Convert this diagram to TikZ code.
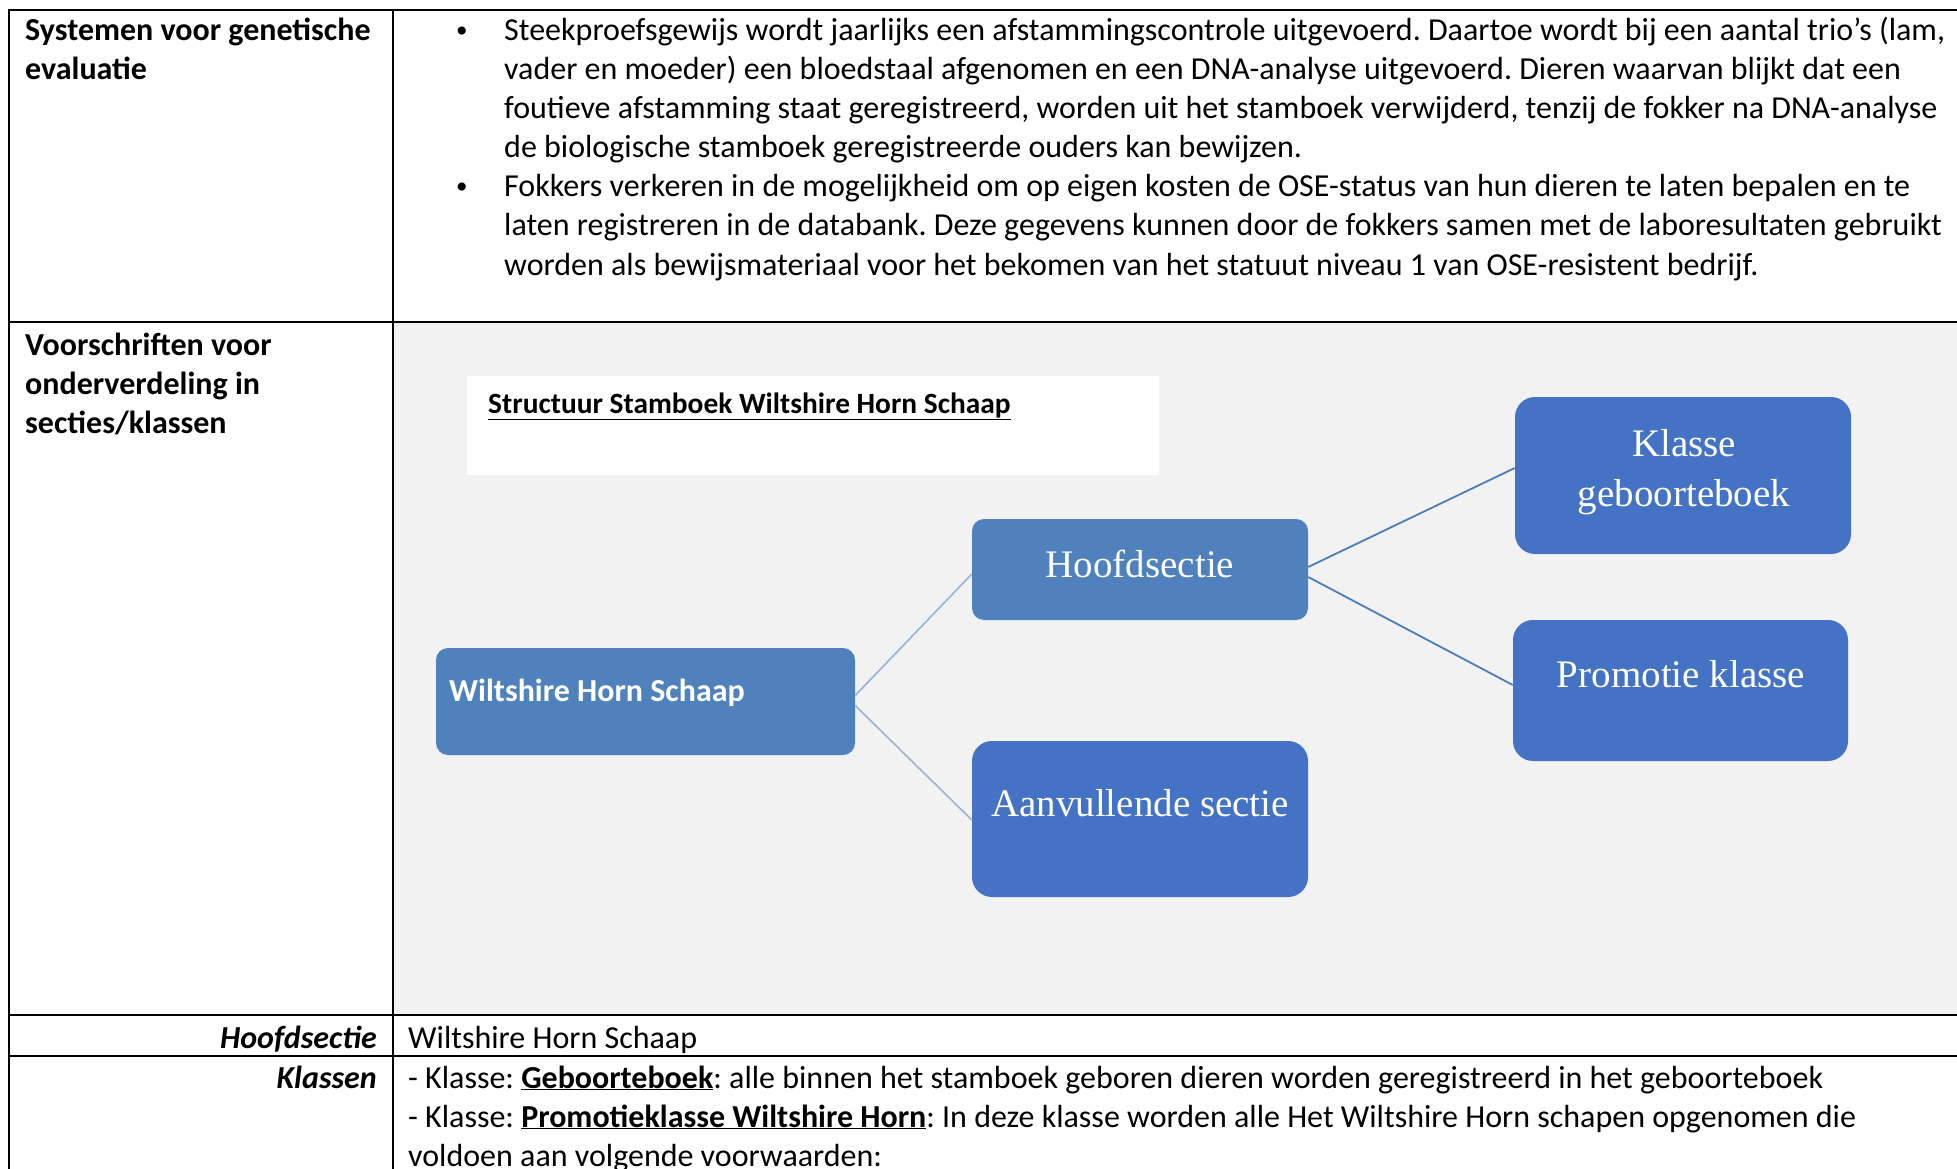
\documentclass[tikz,border=0pt]{standalone}
\usepackage{fontspec}
\setmainfont{Carlito}
\newfontfamily\serifbox{Liberation Serif}
\definecolor{graybg}{HTML}{F2F2F2}
\definecolor{boxA}{HTML}{4F81BD}
\definecolor{boxB}{HTML}{4472C4}
\definecolor{linkL}{HTML}{95B3D7}
\definecolor{linkD}{HTML}{4A7EBB}
\tikzset{
  tbl/.style={line width=1.8pt, black},
  body/.style={anchor=base west, inner sep=0pt, font=\fontsize{32}{39}\selectfont\frenchspacing},
  bodyR/.style={anchor=base east, inner sep=0pt, font=\fontsize{32}{39}\selectfont\bfseries\itshape},
  head/.style={anchor=base west, inner sep=0pt, font=\fontsize{32}{39}\selectfont\bfseries},
  bulletmark/.style={anchor=base west, inner sep=0pt, font=\fontsize{23}{39}\selectfont},
  boxa/.style={fill=boxA, draw=none, inner sep=0pt},
  boxb/.style={fill=boxB, draw=none, inner sep=0pt},
  boxtxt/.style={anchor=base, inner sep=0pt, text=white, font=\fontsize{39}{50}\selectfont\serifbox},
  linkl/.style={linkL, line width=1.6pt},
  linkd/.style={linkD, line width=1.8pt},
}
\begin{document}
\begin{tikzpicture}[x=1pt,y=-1pt]
\useasboundingbox (0,0) rectangle (1957,1169);
\fill[white] (0,0) rectangle (1957,1169);
\fill[graybg] (393,322) rectangle (1957,1015);
% table rules
\draw[tbl] (8,10) -- (1957,10);
\draw[tbl] (8,322) -- (1957,322);
\draw[tbl] (8,1015) -- (1957,1015);
\draw[tbl] (8,1056) -- (1957,1056);
\draw[tbl] (9,9) -- (9,1169);
\draw[tbl] (393,9) -- (393,1169);

% row 1
\node[head] (h1a) at (25,41) {Systemen voor genetische};
\node[head] (h1b) at (25,80) {evaluatie};
\node[bulletmark] (bul1) at (456,38) {•};
\node[bulletmark] (bul2) at (456,194) {•};
\node[body] (t1) at (504,41) {Steekproefsgewijs wordt jaarlijks een afstammingscontrole uitgevoerd. Daartoe wordt bij een aantal trio’s (lam,};
\node[body] (t2) at (504,80) {vader en moeder) een bloedstaal afgenomen en een DNA-analyse uitgevoerd. Dieren waarvan blijkt dat een};
\node[body] (t3) at (504,119) {foutieve afstamming staat geregistreerd, worden uit het stamboek verwijderd, tenzij de fokker na DNA-analyse};
\node[body] (t4) at (504,158) {de biologische stamboek geregistreerde ouders kan bewijzen.};
\node[body] (t5) at (504,197) {Fokkers verkeren in de mogelijkheid om op eigen kosten de OSE-status van hun dieren te laten bepalen en te};
\node[body] (t6) at (504,236) {laten registreren in de databank. Deze gegevens kunnen door de fokkers samen met de laboresultaten gebruikt};
\node[body] (t7) at (504,275) {worden als bewijsmateriaal voor het bekomen van het statuut niveau 1 van OSE-resistent bedrijf.};

% row 2 left
\node[head] (h2a) at (25,355) {Voorschriften voor};
\node[head] (h2b) at (25,394) {onderverdeling in};
\node[head] (h2c) at (25,433) {secties/klassen};

% diagram
\node[fill=white, draw=none, minimum width=692pt, minimum height=99pt, inner sep=0pt] (tbox) at (813,425.5) {};
\node[anchor=base west, inner sep=0pt, font=\fontsize{29.4}{35}\selectfont\bfseries] (ttl) at (488,413) {\underline{Structuur Stamboek Wiltshire Horn Schaap}};

\node[boxa, rounded corners=12pt, minimum width=419pt, minimum height=107pt] (whs) at (645.5,701.5) {};
\node[boxa, rounded corners=12pt, minimum width=336pt, minimum height=101pt] (hoofd) at (1140,569.5) {};
\node[boxb, rounded corners=20pt, minimum width=336pt, minimum height=156pt] (aanv) at (1140,819) {};
\node[boxb, rounded corners=20pt, minimum width=336pt, minimum height=157pt] (klasse) at (1683,475.5) {};
\node[boxb, rounded corners=20pt, minimum width=335pt, minimum height=141pt] (promo) at (1680.5,690.5) {};

\node[anchor=base west, inner sep=0pt, text=white, font=\fontsize{32}{39}\selectfont\bfseries] (whst) at (449,701) {Wiltshire Horn Schaap};
\node[boxtxt] (hoofdt) at (1140,577) {Hoofdsectie};
\node[boxtxt] (aanvt) at (1140,816) {Aanvullende sectie};
\node[boxtxt] (klt1) at (1684,456) {Klasse};
\node[boxtxt] (klt2) at (1684,506) {geboorteboek};
\node[boxtxt] (promot) at (1681,687) {Promotie klasse};

\draw[linkl] ([yshift=6pt]whs.east) -- ([yshift=-4.5pt]hoofd.west);
\draw[linkl] ([yshift=-4pt]whs.east) -- ([yshift=-1pt]aanv.west);
\draw[linkd] ([yshift=2.5pt]hoofd.east) -- ([yshift=7.5pt]klasse.west);
\draw[linkd] ([yshift=-7.5pt]hoofd.east) -- ([yshift=5.5pt]promo.west);

% bottom rows
\node[bodyR] (hs) at (377,1048) {Hoofdsectie};
\node[body] (hsv) at (408,1048) {Wiltshire Horn Schaap};
\node[bodyR] (kl) at (377,1088) {Klassen};
\node[body] (k1) at (408,1088) {- Klasse: \underline{\textbf{Geboorteboek}}: alle binnen het stamboek geboren dieren worden geregistreerd in het geboorteboek};
\node[body] (k2) at (408,1127) {- Klasse: \underline{\textbf{Promotieklasse Wiltshire Horn}}: In deze klasse worden alle Het Wiltshire Horn schapen opgenomen die};
\node[body] (k3) at (408,1166) {voldoen aan volgende voorwaarden:};
\end{tikzpicture}
\end{document}
